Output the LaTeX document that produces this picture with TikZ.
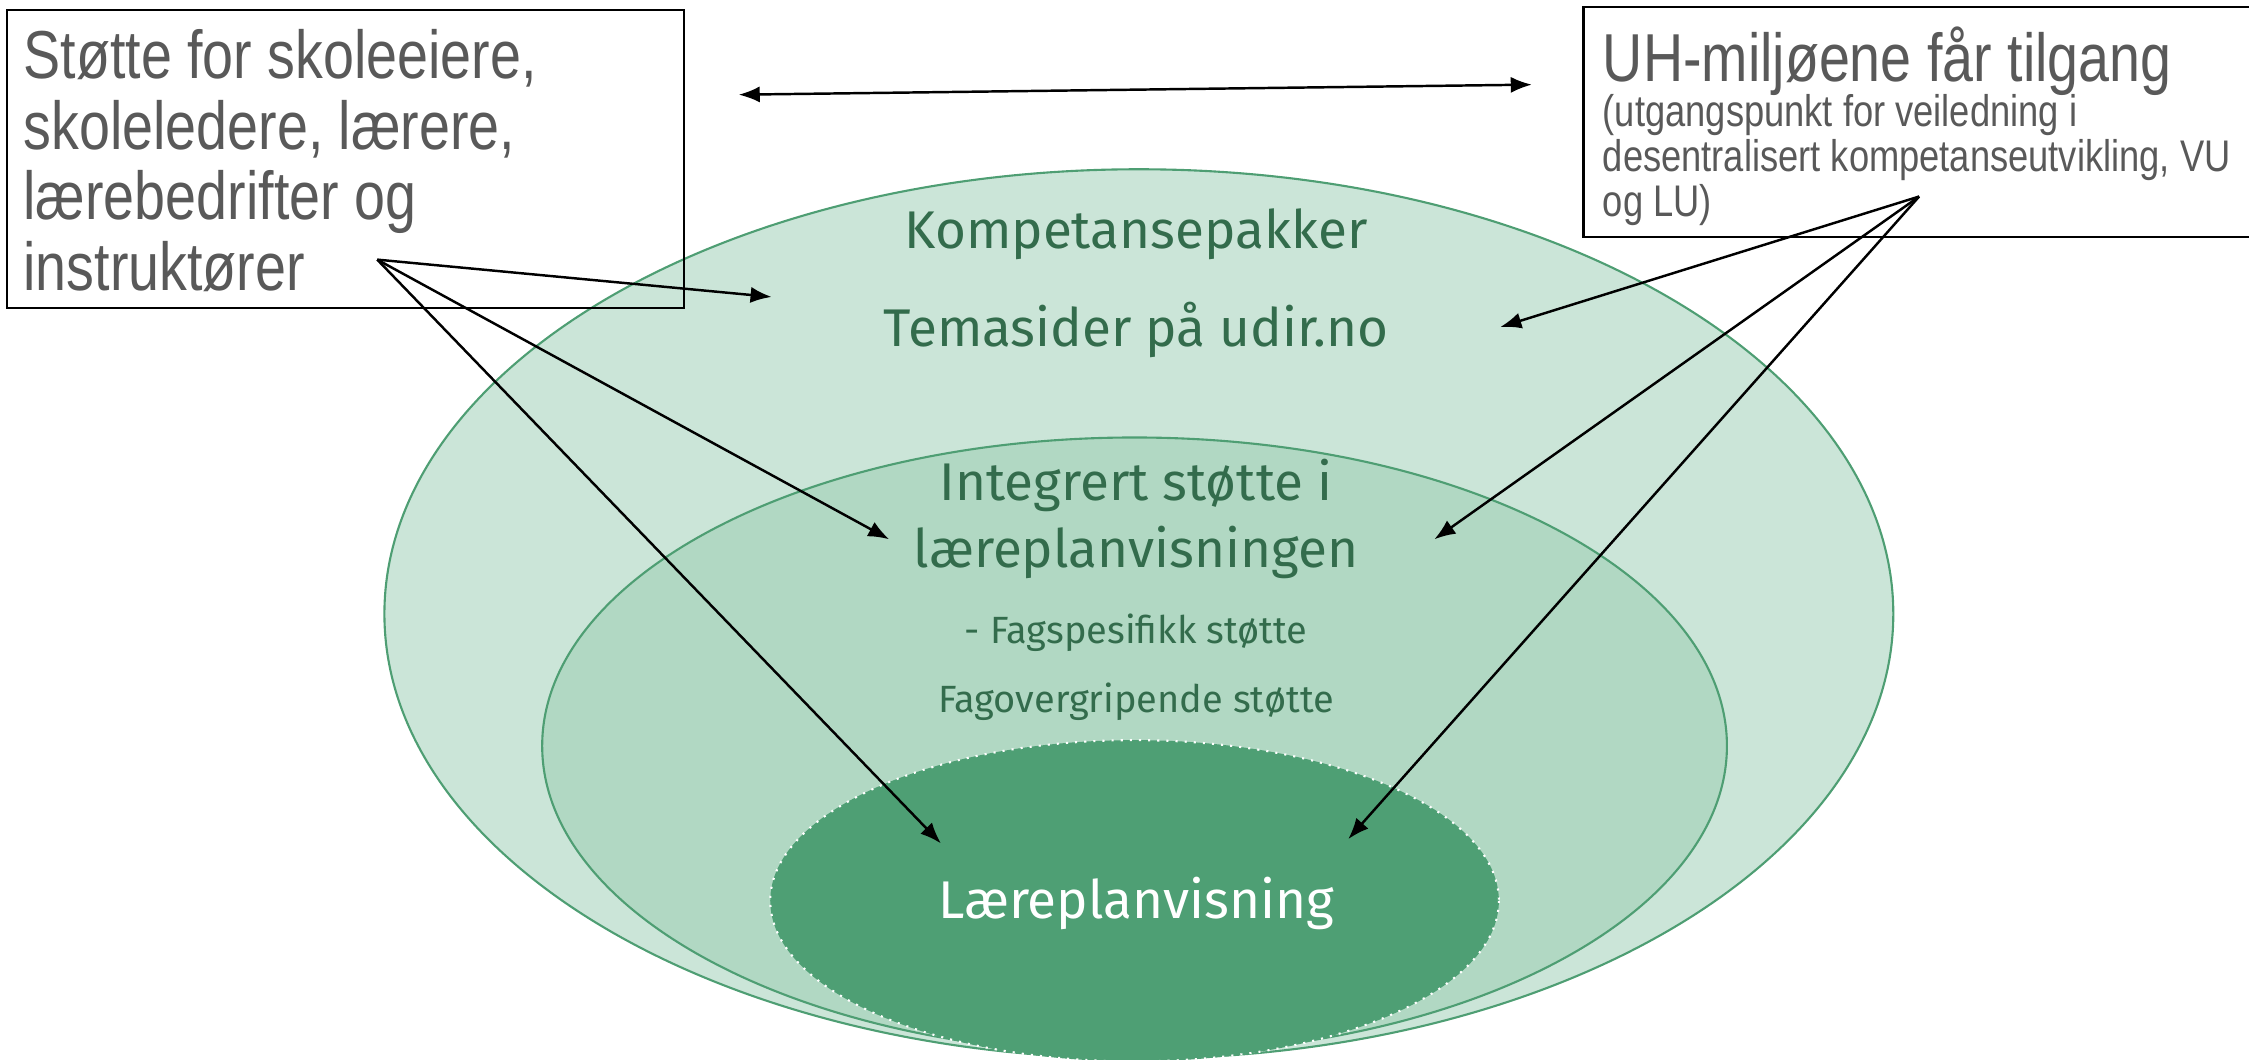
\documentclass[tikz,border=0pt]{standalone}
\usepackage{fontspec}
\setmainfont{Fira Sans}
\newfontfamily\boxfont[FakeStretch=0.82]{Liberation Sans}
\usepackage{tikz}
\usetikzlibrary{arrows.meta}
\definecolor{ringA}{HTML}{CBE5D8}
\definecolor{ringB}{HTML}{B1D8C3}
\definecolor{ringC}{HTML}{4E9F74}
\definecolor{ringline}{HTML}{4E9E73}
\definecolor{ringtext}{HTML}{336C4C}
\definecolor{boxgray}{HTML}{595959}

\begin{document}
\begin{tikzpicture}[x=0.01434cm,y=-0.01434cm]
			\tikzstyle{every node}=[inner sep=0pt]
			\tikzstyle{ring}=[draw=ringline, line width=0.6pt]
			\tikzstyle{boxtxt}=[font=\boxfont\fontsize{19.3}{20.1}\selectfont, text=boxgray, align=left, anchor=north west]
			\tikzstyle{subtxt}=[font=\boxfont\fontsize{12.6}{12.8}\selectfont, text=boxgray, align=left, anchor=north west]
			\tikzstyle{ringtxt}=[font=\fontsize{15.1}{19}\selectfont, text=ringtext, align=center]
			\tikzstyle{smalltxt}=[font=\fontsize{10.8}{12}\selectfont, text=ringtext]
			\tikzstyle{arr}=[-{Latex[length=6pt,width=4.6pt]}, line width=0.7pt]
			\useasboundingbox (0,0) rectangle (1568,739);
			
			% the three rings
			\draw [ring, fill=ringA] (794,428) ellipse (526 and 310);
			\draw [ring, fill=ringB] (791,520) ellipse (413 and 215);
			\draw [draw=white, dotted, line width=0.6pt, fill=ringC] (791,628) ellipse (254 and 112);
			
			% boxes
			\draw [line width=0.6pt] (5,7) rectangle (477,215);
			\draw [line width=0.6pt] (1104,5) rectangle (1580,165);
			
			\node [boxtxt] (stotte) at (16,20) {Støtte for skoleeiere,\\skoleledere, lærere,\\lærebedrifter og\\instruktører};
			\node [boxtxt] (uhtitle) at (1117,18) {UH-miljøene får tilgang};
			\node [subtxt] (uhsub) at (1117,65) {(utgangspunkt for veiledning i\\desentralisert kompetanseutvikling, VU\\og LU)};
			
			\node [ringtxt] (kompetanse) at (792,163) {Kompetansepakker};
			\node [ringtxt] (temasider) at (792,230) {Temasider på udir.no};
			\node [ringtxt] (integrert) at (792,362) {Integrert støtte i\\læreplanvisningen};
			\node [smalltxt] (fagspes) at (792,441) {- Fagspesifikk støtte};
			\node [smalltxt] (fagover) at (792,489) {Fagovergripende støtte};
			\node [ringtxt, text=white] (lpv) at (792,630) {Læreplanvisning};
			
			% arrows
			\coordinate (fromL) at (263,181);
			\coordinate (fromR) at (1338,137);
			\coordinate (toKompL) at (538,207);
			\coordinate (toIntL) at (620,376);
			\coordinate (toLpvL) at (656,588);
			\coordinate (toKompR) at (1046,228);
			\coordinate (toIntR) at (1000,376);
			\coordinate (toLpvR) at (940,585);
			\coordinate (dblL) at (515,66);
			\coordinate (dblR) at (1068,59);
			
			\draw [arr] (fromL) -- (toKompL);
			\draw [arr] (fromL) -- (toIntL);
			\draw [arr] (fromL) -- (toLpvL);
			\draw [arr] (fromR) -- (toKompR);
			\draw [arr] (fromR) -- (toIntR);
			\draw [arr] (fromR) -- (toLpvR);
			\draw [arr, {Latex[length=6pt,width=4.6pt]}-{Latex[length=6pt,width=4.6pt]}] (dblL) -- (dblR);
			
\end{tikzpicture}
\end{document}
